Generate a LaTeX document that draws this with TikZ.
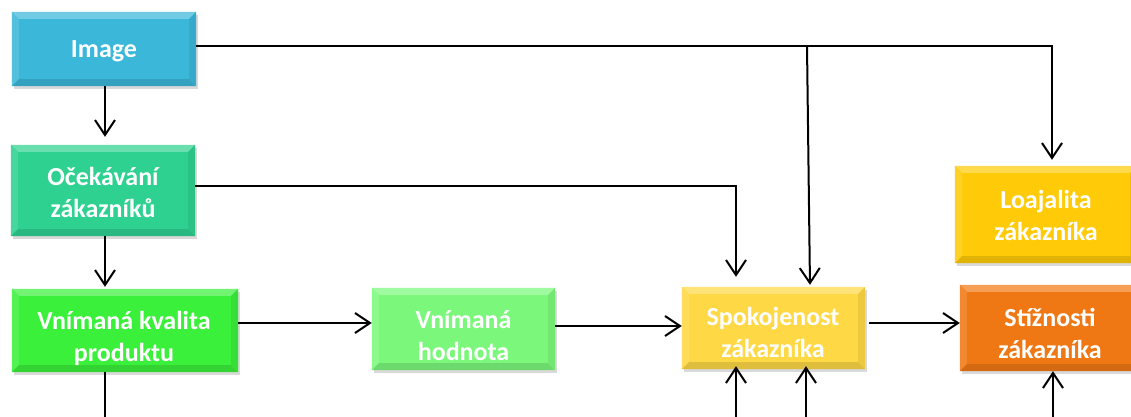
\documentclass[tikz,border=0pt]{standalone}
\usepackage{fontspec}
\setmainfont{Carlito}
\usetikzlibrary{arrows.meta,shadows}
\definecolor{cImg}{HTML}{3BB7D9}
\definecolor{cExp}{HTML}{2ED190}
\definecolor{cKval}{HTML}{3AF03A}
\definecolor{cHod}{HTML}{7BF87B}
\definecolor{cSpok}{HTML}{FFD845}
\definecolor{cLoaj}{HTML}{FFCB08}
\definecolor{cStiz}{HTML}{F07814}
\newcommand\bevelbox[2]{%
  \fill[#2!72!white] (#1.north west) -- (#1.north east) -- ([xshift=-7pt,yshift=-7pt]#1.north east) -- ([xshift=7pt,yshift=-7pt]#1.north west) -- cycle;
  \fill[#2!88!white] (#1.north west) -- ([xshift=7pt,yshift=-7pt]#1.north west) -- ([xshift=7pt,yshift=7pt]#1.south west) -- (#1.south west) -- cycle;
  \fill[#2!88!black] (#1.south west) -- ([xshift=7pt,yshift=7pt]#1.south west) -- ([xshift=-7pt,yshift=7pt]#1.south east) -- (#1.south east) -- cycle;
  \fill[#2!93!black] (#1.north east) -- ([xshift=-7pt,yshift=-7pt]#1.north east) -- ([xshift=-7pt,yshift=7pt]#1.south east) -- (#1.south east) -- cycle;
}
\begin{document}
\begin{tikzpicture}[x=1pt,y=-1pt,
  box/.style={rectangle, inner sep=0pt, draw=none, fill=#1,
    drop shadow={opacity=0.3, shadow xshift=2pt, shadow yshift=-3pt}},
  lbl/.style={text=white, font=\fontsize{26}{32}\selectfont\bfseries, anchor=base, inner sep=0pt},
  wire/.style={line width=2pt},
  conn/.style={line width=2pt, -{Straight Barb[length=15pt,width=20pt,line width=2pt]}}]
\useasboundingbox (0,0) rectangle (1131,416);

% boxes
\node[box=cImg, minimum width=184pt, minimum height=74pt] (img) at (104,49) {};
\bevelbox{img}{cImg}
\node[box=cExp, minimum width=184pt, minimum height=91pt] (exp) at (103,190.5) {};
\bevelbox{exp}{cExp}
\node[box=cKval, minimum width=226pt, minimum height=83pt] (kval) at (125,330.5) {};
\bevelbox{kval}{cKval}
\node[box=cHod, minimum width=183pt, minimum height=82pt] (hod) at (463.5,329) {};
\bevelbox{hod}{cHod}
\node[box=cSpok, minimum width=183pt, minimum height=82pt] (spok) at (773.5,328) {};
\bevelbox{spok}{cSpok}
\node[box=cLoaj, minimum width=182pt, minimum height=97pt] (loaj) at (1046,214.5) {};
\bevelbox{loaj}{cLoaj}
\node[box=cStiz, minimum width=180pt, minimum height=86pt] (stiz) at (1050,328) {};
\bevelbox{stiz}{cStiz}

% texts
\node[lbl] (imgt) at (104,57) {Image};
\node[lbl] (expt) at (103,185) {\begin{tabular}[t]{@{}c@{}}Očekávání\\zákazníků\end{tabular}};
\node[lbl] (kvalt) at (124,329) {\begin{tabular}[t]{@{}c@{}}Vnímaná kvalita\\produktu\end{tabular}};
\node[lbl] (hodt) at (463.5,328) {\begin{tabular}[t]{@{}c@{}}Vnímaná\\hodnota\end{tabular}};
\node[lbl] (spokt) at (773,325) {\begin{tabular}[t]{@{}c@{}}Spokojenost\\zákazníka\end{tabular}};
\node[lbl] (loajt) at (1046,208) {\begin{tabular}[t]{@{}c@{}}Loajalita\\zákazníka\end{tabular}};
\node[lbl] (stizt) at (1050,326) {\begin{tabular}[t]{@{}c@{}}Stížnosti\\zákazníka\end{tabular}};

% free ends below the picture
\coordinate (kvout) at (105,420);
\coordinate (in1) at (736,420);
\coordinate (in2) at (806,420);
\coordinate (in3) at (1053,420);
\coordinate (br) at (807,46);

% connectors
\draw[conn, shorten >=8pt] ([xshift=1pt]img.south) -- ([xshift=1pt]img.south |- exp.north);
\draw[conn, shorten >=2pt] ([xshift=2pt]exp.south) -- ([xshift=2pt]exp.south |- kval.north);
\draw[conn] ([yshift=7.5pt]kval.east) -- ([yshift=7.5pt]kval.east -| hod.west);
\draw[conn] ([yshift=3pt]hod.east) -- ([yshift=3pt]hod.east -| spok.west);
\draw[conn] ([xshift=4pt,yshift=5pt]spok.east) -- ([yshift=5pt]spok.east -| stiz.west);
\draw[conn, shorten >=6pt] ([yshift=3pt]img.east) -| ([xshift=6pt]loaj.north);
\draw[conn, shorten >=2pt] (br) -- ([xshift=36.5pt]spok.north);
\draw[conn, shorten >=10pt] ([yshift=4.5pt]exp.east) -| ([xshift=-37.5pt]spok.north);
\draw[wire] ([xshift=-20pt]kval.south) -- (kvout);
\draw[conn, shorten >=-3pt] (in1) -- (in1 |- spok.south);
\draw[conn, shorten >=-3pt] (in2) -- (in2 |- spok.south);
\draw[conn] (in3) -- (in3 |- stiz.south);
\end{tikzpicture}
\end{document}
